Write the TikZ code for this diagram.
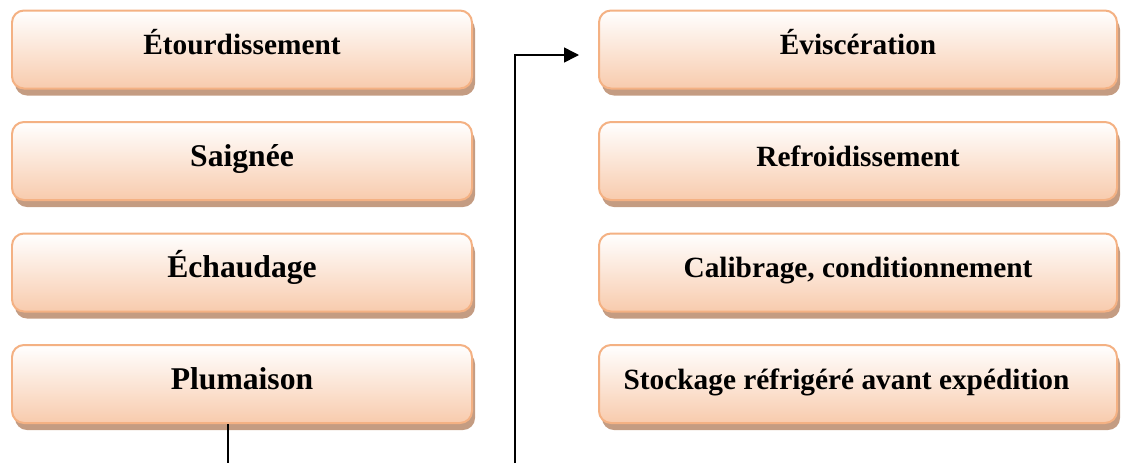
\documentclass[tikz,border=0pt]{standalone}
\usepackage{fontspec}
\setmainfont{Liberation Serif}
\usetikzlibrary{positioning,shadows,arrows.meta}

\definecolor{peachline}{HTML}{F4B183}
\definecolor{peachfill}{HTML}{F8CBAD}
\definecolor{peachshadow}{HTML}{C49C82}

\begin{document}
\begin{tikzpicture}[
    stepbox/.style={draw=peachline, line width=0.04cm, rounded corners=0.24cm,
      top color=white, bottom color=peachfill, minimum height=1.56cm,
      text height=0.45cm, text depth=0.25cm,
      font=\fontsize{16.7}{20}\selectfont\bfseries,
      drop shadow={shadow xshift=0.06cm, shadow yshift=-0.14cm,
        fill=peachshadow, opacity=1}},
    bigtext/.style={font=\fontsize{18}{21}\selectfont\bfseries},
    leftbox/.style={stepbox, minimum width=9.2cm},
    rightbox/.style={stepbox, minimum width=10.36cm},
    flow/.style={line width=0.03cm}
  ]
  \useasboundingbox (0,0) rectangle (22.5,-9.26);

  % first column
  \node [leftbox] (etourd) at (4.84,-0.99) {Étourdissement};
  \node [leftbox, bigtext, below=0.63cm of etourd] (saignee) {Saignée};
  \node [leftbox, bigtext, below=0.63cm of saignee] (echaud) {Échaudage};
  \node [leftbox, bigtext, below=0.63cm of echaud] (plum) {Plumaison};

  % second column
  \node [rightbox] (evisc) at (17.16,-0.99) {Éviscération};
  \node [rightbox, below=0.63cm of evisc] (refroid) {Refroidissement};
  \node [rightbox, below=0.63cm of refroid] (calib) {Calibrage, conditionnement};
  \node [rightbox, below=0.63cm of calib] (stock) {Stockage réfrigéré avant expédition\hspace*{0.46cm}};

  % link between the two columns
  \coordinate (downend) at (4.56,-9.26);
  \coordinate (upstart) at (10.3,-9.26);
  \draw [flow] (plum.south -| downend) -- (downend);
  \draw [flow, -{Triangle[length=0.3cm, width=0.3cm]}]
    (upstart) |- ([xshift=-0.38cm, yshift=-0.11cm]evisc.west);
\end{tikzpicture}
\end{document}
